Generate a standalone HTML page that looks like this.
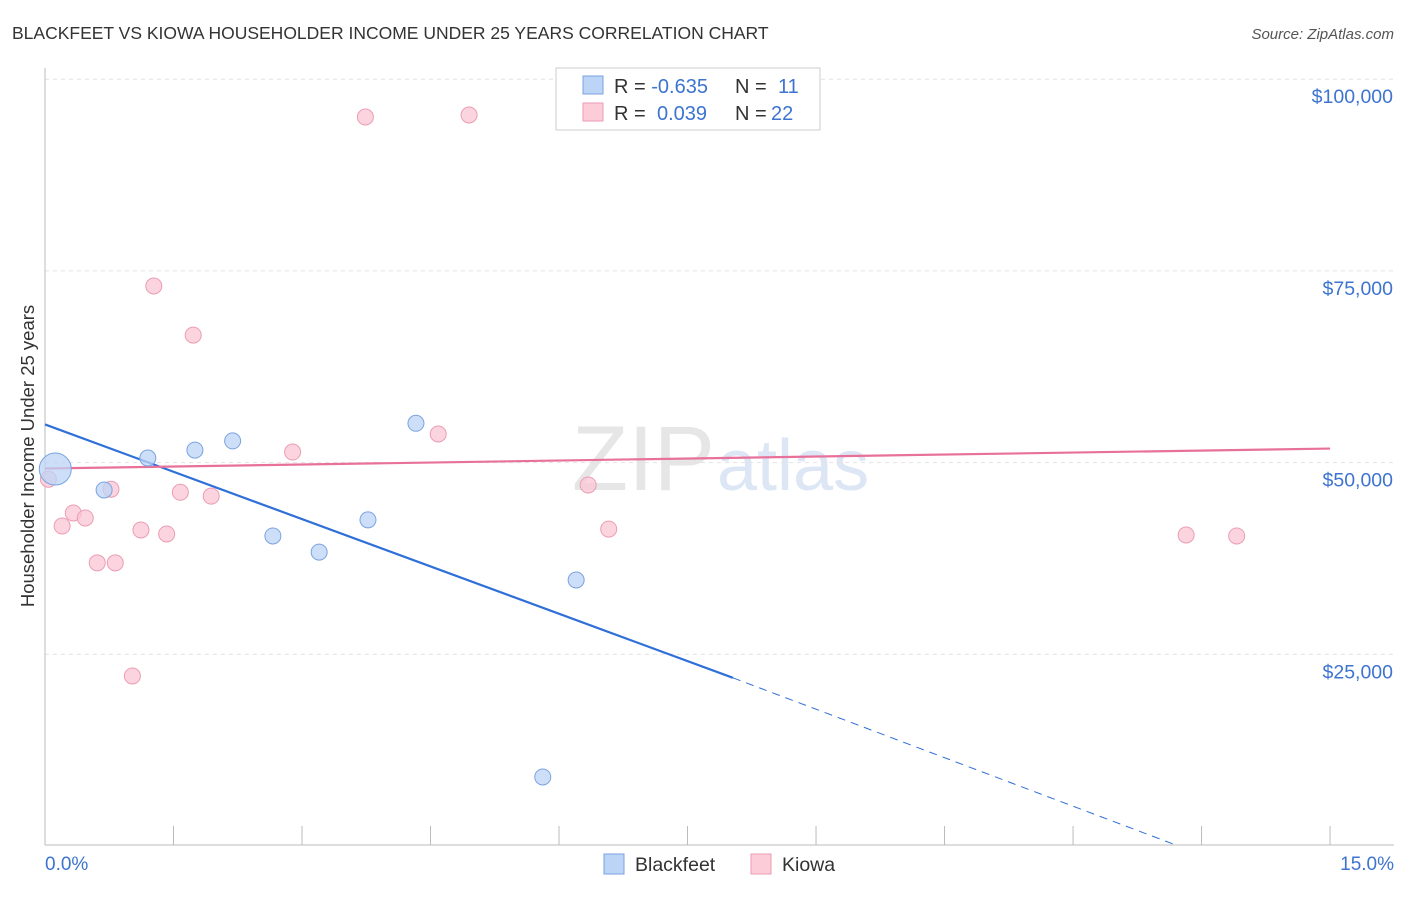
<!DOCTYPE html>
<html><head><meta charset="utf-8"><style>
body{margin:0;background:#fff;font-family:"Liberation Sans",sans-serif}
svg text{font-family:"Liberation Sans",sans-serif}
</style></head><body>
<svg width="1406" height="892">
<text x="12" y="39" font-size="17.5" fill="#333">BLACKFEET VS KIOWA HOUSEHOLDER INCOME UNDER 25 YEARS CORRELATION CHART</text>
<text x="1394" y="39" font-size="15" fill="#555" text-anchor="end" font-style="italic">Source: ZipAtlas.com</text>
<text x="715" y="490" font-size="92" fill="#e6e6e6" text-anchor="end" font-family="Liberation Serif">ZIP</text>
<text x="717" y="490" font-size="72" fill="#dce6f5">atlas</text>
<g id="grid"></g><g id="axes"></g><g id="trend"></g><g id="pts"></g>
<text transform="translate(34,456) rotate(-90)" font-size="18.5" fill="#333" text-anchor="middle">Householder Income Under 25 years</text>
<text x="45" y="870" font-size="19" fill="#3d74d0">0.0%</text>
<text x="1394" y="870" font-size="19" fill="#3d74d0" text-anchor="end">15.0%</text>
<g>
<rect x="556" y="68" width="264" height="62" fill="#fff" stroke="#ccc"/>
<rect x="583" y="76" width="20" height="18" fill="#bcd4f5" stroke="#7aa3e0"/>
<rect x="583" y="103" width="20" height="18" fill="#fcccd9" stroke="#eb9db3"/>
<text x="614" y="93" font-size="20" fill="#333">R = <tspan fill="#3d74d0">-0.635</tspan><tspan x="735">N = </tspan><tspan x="778" fill="#3d74d0">11</tspan></text>
<text x="614" y="120" font-size="20" fill="#333">R = <tspan x="657" fill="#3d74d0">0.039</tspan><tspan x="735">N = </tspan><tspan x="771" fill="#3d74d0">22</tspan></text>
</g>
<g>
<rect x="604" y="854" width="20" height="20" fill="#bcd4f5" stroke="#7aa3e0"/>
<text x="635" y="871" font-size="19.5" fill="#333">Blackfeet</text>
<rect x="751" y="854" width="20" height="20" fill="#fcccd9" stroke="#eb9db3"/>
<text x="782" y="871" font-size="19.5" fill="#333">Kiowa</text>
</g>
</svg>
<script>
const yTicks=[25000,50000,75000,100000];
const yTickLabels=["$25,000","$50,000","$75,000","$100,000"];
const blackX=[0.12,0.69,1.2,1.75,2.19,2.66,3.2,3.77,4.33,5.81,6.2];
const blackY=[49030,46300,50470,51500,52700,40300,38200,42400,55000,8870,34560];
const blackR=[16,8,8,8,8,8,8,8,8,8,8];
const kiowaX=[0.04,0.2,0.33,0.47,0.61,0.77,0.82,1.02,1.12,1.27,1.42,1.58,1.73,1.94,2.89,3.74,4.59,4.95,6.34,6.58,13.32,13.91];
const kiowaY=[47700,41600,43300,42650,36800,46400,36800,22040,41080,72900,40560,46000,66500,45500,51250,94940,53600,95200,46950,41200,40430,40300];
const blackTrend=[[0,54850],[8.03,21800],[13.2,0]];
const kiowaTrend=[[0,49100],[15,51700]];
const X=v=>45+v*85.67, Y=v=>845-v*191.7/25000;
const NS="http://www.w3.org/2000/svg";
function mk(p,t,a){const e=document.createElementNS(NS,t);for(const k in a)e.setAttribute(k,a[k]);document.getElementById(p).appendChild(e);return e;}
yTicks.forEach((t,i)=>{
 let l=mk('grid','line',{x1:45,x2:1394,y1:Y(t)+1,y2:Y(t)+1,stroke:'#e2e2e2','stroke-dasharray':'4,4'});
 
 
 let tx=mk('grid','text',{x:1393,y:Y(t)+25,'font-size':19.5,fill:'#3d74d0','text-anchor':'end'});
 tx.textContent=yTickLabels[i];
 
 
});
let ax=mk('axes','line',{x1:45,x2:45,y1:68,y2:845,stroke:'#bbb'});


let bx=mk('axes','line',{x1:45,x2:1394,y1:845,y2:845,stroke:'#bbb'});


for(let i=0;i<=10;i++){let t=mk('axes','line',{x1:X(i*1.5),x2:X(i*1.5),y1:826,y2:845,stroke:'#bbb'});
 
 }
let b1=mk('trend','line',{x1:X(blackTrend[0][0]),y1:Y(blackTrend[0][1]),x2:X(blackTrend[1][0]),y2:Y(blackTrend[1][1]),stroke:'#2f6fd8','stroke-width':2.2});


let b2=mk('trend','line',{x1:X(blackTrend[1][0]),y1:Y(blackTrend[1][1]),x2:X(blackTrend[2][0]),y2:Y(blackTrend[2][1]),stroke:'#2f6fd8','stroke-width':1,'stroke-dasharray':'8,6'});


let k1=mk('trend','line',{x1:X(kiowaTrend[0][0]),y1:Y(kiowaTrend[0][1]),x2:X(kiowaTrend[1][0]),y2:Y(kiowaTrend[1][1]),stroke:'#e8719a','stroke-width':2.2});


kiowaX.forEach((x,i)=>{let c=mk('pts','circle',{cx:X(x),cy:Y(kiowaY[i]),r:8,fill:'#fbc6d5','fill-opacity':0.75,stroke:'#eb9db3'});
 
 });
blackX.forEach((x,i)=>{let c=mk('pts','circle',{cx:X(x),cy:Y(blackY[i]),r:blackR[i],fill:'#bcd4f5','fill-opacity':0.75,stroke:'#7aa3e0'});
 
 });
</script>
</body></html>
